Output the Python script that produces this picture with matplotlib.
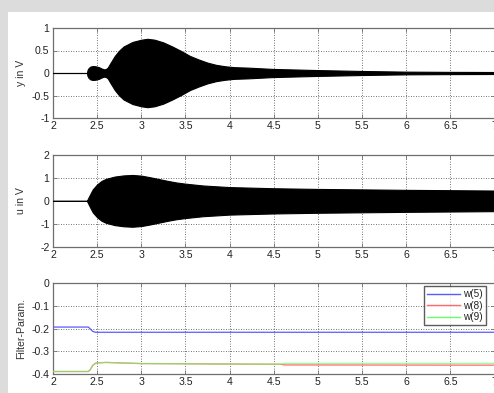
import matplotlib
matplotlib.use("Agg")
import matplotlib.pyplot as plt
from matplotlib.patches import Rectangle

plt.rcParams['font.family'] = ['Liberation Sans', 'DejaVu Sans']
plt.rcParams['axes.unicode_minus'] = False

# --- data ---
# envelope of y (output voltage)
t_y = [2.0, 2.385, 2.39, 2.40, 2.42, 2.45, 2.48, 2.52, 2.55, 2.58, 2.60, 2.62, 2.65, 2.70,
       2.75, 2.80, 2.90, 3.00, 3.07, 3.15, 3.25, 3.35, 3.45, 3.55, 3.65, 3.75, 3.85,
       3.95, 4.05, 4.2, 4.5, 5.0, 5.5, 6.0, 6.5, 7.0]
env_y = [0.0, 0.0, 0.06, 0.10, 0.14, 0.155, 0.15, 0.13, 0.10, 0.08, 0.09, 0.12, 0.22, 0.38,
         0.50, 0.59, 0.69, 0.74, 0.76, 0.74, 0.68, 0.59, 0.49, 0.38, 0.30, 0.23, 0.18,
         0.15, 0.13, 0.12, 0.09, 0.065, 0.045, 0.03, 0.025, 0.022]

# envelope of u (control voltage)
t_u = [2.0, 2.385, 2.39, 2.42, 2.45, 2.50, 2.55, 2.60, 2.70, 2.80, 2.90, 3.00, 3.10,
       3.20, 3.30, 3.40, 3.50, 3.70, 4.00, 4.50, 5.00, 6.00, 7.00]
env_u = [0.0, 0.0, 0.05, 0.28, 0.50, 0.72, 0.87, 0.96, 1.06, 1.11, 1.13, 1.10, 1.03,
         0.95, 0.87, 0.80, 0.75, 0.67, 0.60, 0.55, 0.52, 0.48, 0.45]

# filter parameters
t_w = [2.0, 2.40, 2.42, 2.45, 2.48, 2.50, 2.60, 3.00, 4.00, 4.58, 4.62, 7.00]
w5 = [-0.193, -0.193, -0.200, -0.212, -0.216, -0.216, -0.216, -0.216, -0.216, -0.216, -0.216, -0.216]
w8 = [-0.389, -0.389, -0.382, -0.362, -0.353, -0.351, -0.349, -0.354, -0.356, -0.357, -0.360, -0.361]
w9 = [-0.389, -0.389, -0.382, -0.362, -0.353, -0.351, -0.349, -0.354, -0.356, -0.357, -0.353, -0.353]

xticks = [2, 2.5, 3, 3.5, 4, 4.5, 5, 5.5, 6, 6.5, 7]
xticklabels = ['2', '2.5', '3', '3.5', '4', '4.5', '5', '5.5', '6', '6.5', '7']
y1ticks = [-1, -0.5, 0, 0.5, 1]
y1labels = ['-1', '-0.5', '0', '0.5', '1']
y2ticks = [-2, -1, 0, 1, 2]
y2labels = ['-2', '-1', '0', '1', '2']
y3ticks = [-0.4, -0.3, -0.2, -0.1, 0]
y3labels = ['-0.4', '-0.3', '-0.2', '-0.1', '0']

W, H = 494, 393
fig = plt.figure(figsize=(W / 100, H / 100), dpi=100, facecolor='#dcdcdc')
fig.patches.append(Rectangle((8 / W, 0), 1, 1 - 12 / H, transform=fig.transFigure,
                             facecolor='white', edgecolor='none', zorder=-5))

def frac(px_left, px_top, px_right, px_bottom):
    return [px_left / W, 1 - px_bottom / H, (px_right - px_left) / W, (px_bottom - px_top) / H]

spine_col = '#6e6e6e'
fs = 7.6

def style(ax, yt, yl, ylim, ylabel):
    ax.set_xlim(2, 7)
    ax.set_ylim(*ylim)
    ax.set_xticks(xticks)
    ax.set_xticklabels(xticklabels)
    ax.set_yticks(yt)
    ax.set_yticklabels(yl)
    ax.tick_params(direction='in', length=3, width=0.6, color=spine_col, labelsize=fs,
                   top=True, right=True, pad=2.5, labelcolor='#222222')
    for s in ax.spines.values():
        s.set_color(spine_col)
        s.set_linewidth(0.9)
    ax.grid(True, linestyle=(0, (1, 2)), color='#444444', linewidth=0.6)
    ax.set_axisbelow(True)
    ax.set_ylabel(ylabel, fontsize=fs, labelpad=4, color='#333333')
    ax.set_facecolor('white')
    ax.yaxis.set_label_coords(-0.061, 0.5)

ax1 = fig.add_axes(frac(53, 28, 494.5, 118))
neg_y = [-v for v in env_y]
ax1.fill_between(t_y, neg_y, env_y, color='black', linewidth=0.8, edgecolor='black', zorder=3)
style(ax1, y1ticks, y1labels, (-1, 1), 'y in V')

ax2 = fig.add_axes(frac(53, 155, 494.5, 246.7))
neg_u = [-v for v in env_u]
ax2.fill_between(t_u, neg_u, env_u, color='black', linewidth=0.8, edgecolor='black', zorder=3)
style(ax2, y2ticks, y2labels, (-2, 2), 'u in V')

ax3 = fig.add_axes(frac(53, 283.3, 494.5, 374))
ax3.plot(t_w, w5, color='#5a5aff', linewidth=0.9, label='w(5)', zorder=3)
ax3.plot(t_w, w8, color='#ff6a6a', linewidth=0.9, label='w(8)', zorder=3)
ax3.plot(t_w, w9, color='#6aff6a', linewidth=0.9, label='w(9)', zorder=3, alpha=0.7)
style(ax3, y3ticks, y3labels, (-0.4, 0), 'Filter-Param.')
ax3.set_xlabel('Zeit in s', fontsize=fs, labelpad=5, color='#333333')
leg = ax3.legend(loc='upper right', fontsize=fs - 0.4, frameon=True, fancybox=False,
                 borderpad=0.3, handlelength=3.3, handletextpad=0.3, labelspacing=0.15,
                 bbox_to_anchor=(0.985, 0.99), borderaxespad=0.2)
leg.get_frame().set_edgecolor('#333333')
leg.get_frame().set_linewidth(1.0)
for txt in leg.get_texts():
    txt.set_color('#222222')
for line in leg.get_lines():
    line.set_linewidth(1.0)
    line.set_alpha(1.0)

fig.savefig('out.png', dpi=100, facecolor=fig.get_facecolor())
